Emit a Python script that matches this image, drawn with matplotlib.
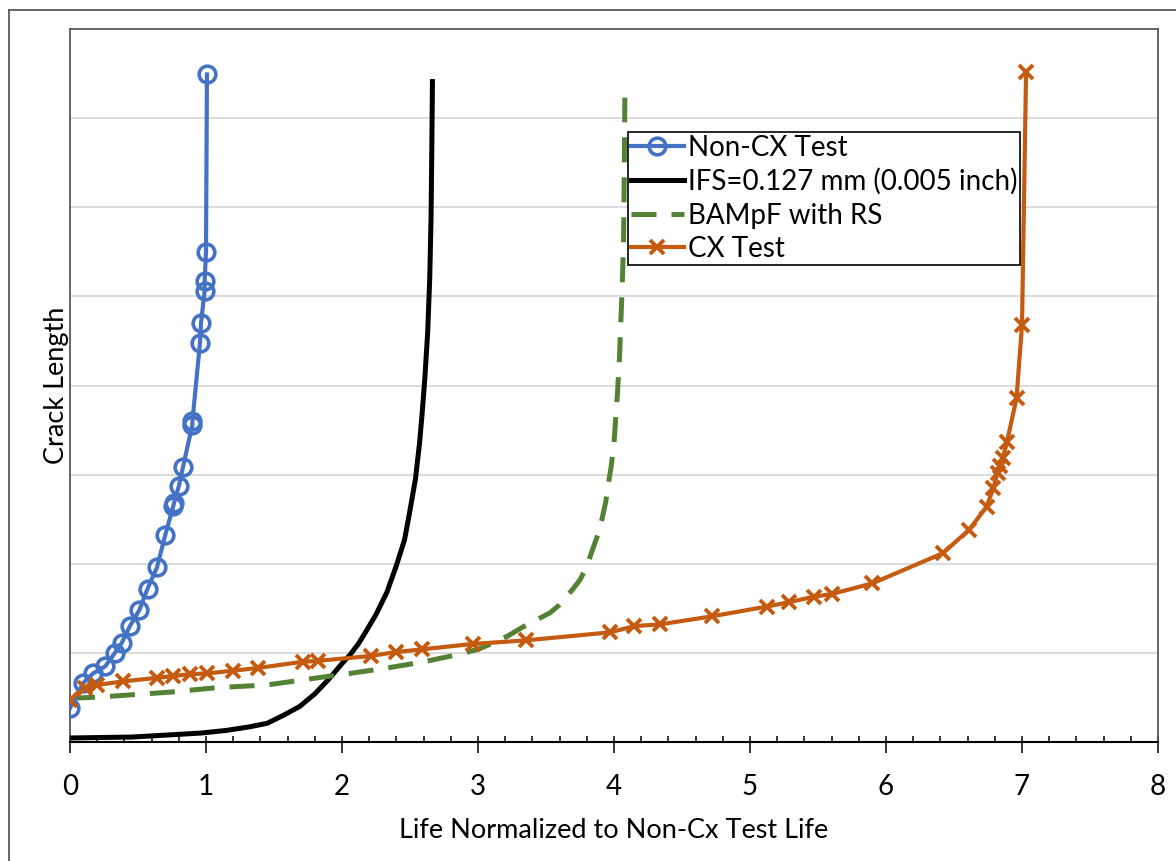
import numpy as np
import matplotlib.pyplot as plt
from matplotlib.lines import Line2D
from matplotlib.ticker import MultipleLocator

plt.rcParams['font.family'] = ['Lato', 'DejaVu Sans']

# Non-CX test (open circles)
noncx_x = [0.0, 0.096, 0.17, 0.26, 0.33, 0.38, 0.44, 0.51, 0.57, 0.64, 0.70, 0.76,
           0.765, 0.80, 0.83, 0.90, 0.90, 0.956, 0.963, 0.99, 0.99, 1.0, 1.007]
noncx_y = [0.38, 0.66, 0.77, 0.85, 1.00, 1.11, 1.30, 1.48, 1.72, 1.96, 2.32, 2.65,
           2.68, 2.87, 3.08, 3.56, 3.60, 4.48, 4.70, 5.06, 5.17, 5.50, 7.49]

# IFS = 0.127 mm prediction
ifs_x = [0.0, 0.46, 0.96, 1.15, 1.32, 1.45, 1.57, 1.69, 1.80, 1.90, 2.00, 2.06,
         2.12, 2.18, 2.25, 2.33, 2.40, 2.46, 2.50, 2.54, 2.57, 2.59, 2.61, 2.63,
         2.645, 2.655, 2.66, 2.665]
ifs_y = [0.045, 0.056, 0.10, 0.13, 0.17, 0.21, 0.30, 0.40, 0.54, 0.70, 0.88, 0.98,
         1.10, 1.25, 1.43, 1.68, 1.98, 2.27, 2.60, 2.95, 3.35, 3.70, 4.10, 4.60,
         5.20, 5.90, 6.60, 7.41]

# BAMpF with residual stress
bam_x = [0.0, 0.22, 0.74, 1.08, 1.45, 1.82, 2.06, 2.33, 2.60, 2.85, 3.00, 3.11,
         3.22, 3.33, 3.43, 3.53, 3.60, 3.65, 3.70, 3.75, 3.80, 3.84, 3.88, 3.91,
         3.94, 3.96, 3.98, 4.00, 4.01, 4.025, 4.04, 4.05, 4.06, 4.07, 4.075, 4.08]
bam_y = [0.49, 0.505, 0.56, 0.61, 0.64, 0.72, 0.77, 0.83, 0.90, 0.98, 1.04, 1.11,
         1.19, 1.29, 1.37, 1.45, 1.54, 1.63, 1.72, 1.82, 1.97, 2.15, 2.32, 2.49,
         2.70, 2.91, 3.10, 3.35, 3.58, 3.90, 4.30, 4.70, 5.10, 5.60, 6.30, 7.23]

# CX test (crosses)
cx_x = [0.0, 0.11, 0.20, 0.39, 0.64, 0.76, 0.88, 1.01, 1.20, 1.38, 1.71, 1.82,
        2.21, 2.40, 2.59, 2.96, 3.35, 3.97, 4.15, 4.34, 4.72, 5.125, 5.29, 5.47,
        5.60, 5.90, 6.42, 6.61, 6.74, 6.79, 6.82, 6.84, 6.86, 6.89, 6.96, 7.00, 7.03]
cx_y = [0.47, 0.61, 0.64, 0.68, 0.72, 0.74, 0.76, 0.77, 0.80, 0.83, 0.90, 0.91,
        0.965, 1.01, 1.04, 1.10, 1.14, 1.23, 1.30, 1.32, 1.41, 1.52, 1.57, 1.63,
        1.66, 1.78, 2.12, 2.38, 2.64, 2.85, 3.02, 3.10, 3.19, 3.37, 3.86, 4.68, 7.52]

fig = plt.figure(figsize=(11.76, 8.61), dpi=100)
ax = fig.add_axes([70/1176, 1 - 742/861, 1088/1176, 713/861])

ax.plot(noncx_x, noncx_y, color='#4472C4', lw=3.0, marker='o', ms=12,
        mfc='none', mec='#4472C4', mew=2.6, label='Non-CX Test', zorder=4)
ax.plot(ifs_x, ifs_y, color='black', lw=3.6, label='IFS=0.127 mm (0.005 inch)', zorder=3)
ax.plot(bam_x, bam_y, color='#548235', lw=3.6, dashes=(5, 3),
        label='BAMpF with RS', zorder=3)
ax.plot(cx_x, cx_y, color='#C55A11', lw=3.0, marker='x', ms=10.5, mew=2.8,
        label='CX Test', zorder=4)

ax.set_xlim(0, 8)
ax.set_ylim(0, 8)
ax.xaxis.set_major_locator(MultipleLocator(1))
ax.xaxis.set_minor_locator(MultipleLocator(0.2))
ax.xaxis.remove_overlapping_locs = False
ax.tick_params(axis='x', which='major', direction='out', length=8, width=1.1,
               labelsize=20, pad=15, color='black')
ax.tick_params(axis='x', which='minor', direction='in', length=4.5, width=1.1,
               color='black')
ax.set_yticks(np.arange(1, 8))
ax.tick_params(axis='y', which='both', left=False, labelleft=False)
ax.grid(axis='y', color='#D9D9D9', lw=1.3)
ax.set_axisbelow(True)

for side in ['left', 'top', 'right']:
    ax.spines[side].set_color('#595959')
    ax.spines[side].set_linewidth(1.3)
ax.spines['bottom'].set_color('black')
ax.spines['bottom'].set_linewidth(1.5)

ax.set_xlabel('Life Normalized to Non-Cx Test Life', fontsize=19.5, labelpad=13)
ax.set_ylabel('Crack Length', fontsize=19.5, labelpad=1)

leg = ax.legend(loc='upper left', bbox_to_anchor=(628/1176, 1 - 132/861),
                bbox_transform=fig.transFigure, fontsize=20, frameon=True,
                fancybox=False, framealpha=1, edgecolor='black',
                handlelength=1.9, handletextpad=0.15, labelspacing=0.27,
                borderpad=0.1, borderaxespad=0)
leg.get_frame().set_linewidth(1.2)

# outer chart frame (only left and top edges visible)
fig.add_artist(Line2D([9/1176, 9/1176], [0, 1 - 10/861], color='#595959', lw=1.3))
fig.add_artist(Line2D([9/1176, 1], [1 - 10/861, 1 - 10/861], color='#595959', lw=1.3))

fig.savefig('out.png', dpi=100)
